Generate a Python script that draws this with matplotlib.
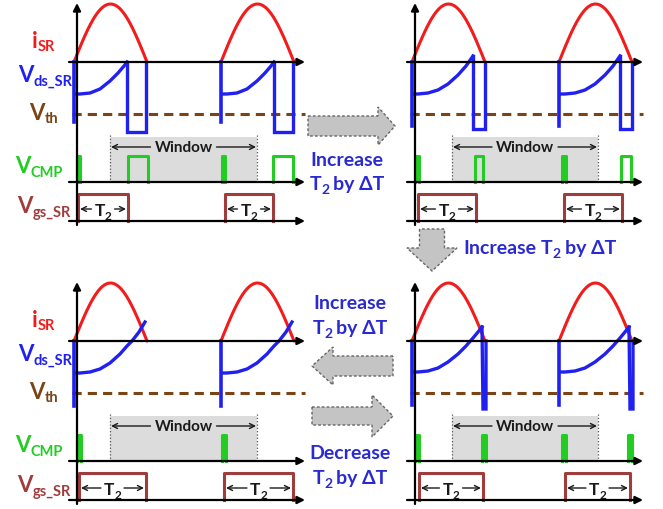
import matplotlib.pyplot as plt
from matplotlib.patches import Polygon, Rectangle

plt.rcParams['font.family'] = ['Lato', 'DejaVu Sans']

RED = '#f21c1c'
BLUE = '#2020f0'
GREEN = '#22cc22'
BROWN = '#7a4416'
MAROON = '#a03c3c'
TXTBLUE = '#2a2ad2'

# where each of the 4 timing diagrams sits (x of its vertical axis, row offset)
panel_x = [77, 415, 77, 415]
panel_y = [0, 0, 279, 279]

# common levels inside one diagram (px from top of the row)
axis_isr, axis_cmp, axis_gs = 63, 183, 222
vth_level = 115
cmp_high, gs_high = 157, 195
period = 147
isr_start = [-3, 144]
isr_len = 73
isr_peak = 58

# Vds_SR first period, t measured from the vertical axis
vds_spike = [123, 127, 128, 127]
vds_t = [
    [-2, 3, 13, 23, 33, 41, 47, 50],
    [-2, 3, 13, 23, 33, 43, 51, 58],
    [-2, 3, 13, 23, 33, 43, 50, 55, 62, 68],
    [-2, 3, 13, 23, 33, 43, 51, 58, 63, 67],
]
vds_y = [
    [95, 95, 94, 90, 82, 74, 67, 63],
    [95, 95, 94, 91, 85, 76, 67, 57],
    [95, 95, 94, 91, 85, 76, 68, 63, 54, 44],
    [94, 94, 93, 90, 84, 76, 68, 60, 54, 49],
]
tail_t = [[50, 50, 69, 69], [58, 58, 70, 70], [], [67, 68, 71, 71]]
tail_y = [[63, 133, 133, 63], [57, 130, 130, 63], [], [49, 131, 131, 63]]

# comparator pulses and gate pulses (start, end)
cmp_pulses = [
    [(0, 3), (51, 71), (145, 148), (196, 216)],
    [(0, 4), (60, 68), (147, 151), (206, 216)],
    [(0, 4), (145, 149)],
    [(0, 4), (67, 71), (147, 151), (213, 217)],
]
gate_pulses = [
    [(1, 51), (148, 196)],
    [(3, 61), (149, 207)],
    [(2, 69), (147, 216)],
    [(4, 68), (150, 215)],
]
windows = [(33, 180), (37, 183), (33, 180), (37, 183)]

fig = plt.figure(figsize=(6.63, 5.10), dpi=100)
ax = fig.add_axes([0, 0, 1, 1])
ax.set_xlim(0, 663)
ax.set_ylim(510, 0)
ax.axis('off')
R = fig.canvas.get_renderer()


def rich(x, y, parts, color, size, ha='left', sub_drop=4, sub_size=None):
    """parts: (text, is_sub, gap_after)"""
    sub_size = sub_size or size * 0.68
    ts, ws = [], []
    for s, is_sub, gap in parts:
        t = ax.text(0, y + (sub_drop if is_sub else 0), s, color=color,
                    fontsize=sub_size if is_sub else size, fontweight='bold',
                    va='baseline', ha='left', zorder=6)
        ts.append(t)
        ws.append(t.get_window_extent(R).width + gap)
    total = sum(ws)
    x0 = {'left': x, 'center': x - total / 2, 'right': x - total}[ha]
    for t, w in zip(ts, ws):
        t.set_x(x0)
        x0 += w
    return total


def harrow(y, x1, x2, lw=1.6):
    ax.annotate('', xy=(x2, y), xytext=(x1, y),
                arrowprops=dict(arrowstyle='-|>', color='black', lw=lw,
                                mutation_scale=11, shrinkA=0, shrinkB=0), zorder=5)


for i in range(4):
    X, Y = panel_x[i], panel_y[i]
    # window
    w0, w1 = windows[i]
    ax.add_patch(Rectangle((X + w0, Y + 138), w1 - w0, axis_cmp - 138,
                           facecolor='#dcdcdc', edgecolor='none', zorder=1))
    for w in (w0, w1):
        ax.plot([X + w, X + w], [Y + 136, Y + axis_cmp], ls=':', color='#555555', lw=0.9, zorder=2)
    ax.text(X + (w0 + w1) / 2, Y + 148, 'Window', ha='center', va='center',
            fontsize=11, fontweight='bold', color='#1a1a1a', zorder=6)
    for a, b in ((X + (w0 + w1) / 2 - 33, X + w0 + 1), (X + (w0 + w1) / 2 + 33, X + w1 - 1)):
        ax.annotate('', xy=(b, Y + 148), xytext=(a, Y + 148),
                    arrowprops=dict(arrowstyle='->', color='#1a1a1a', lw=1.0,
                                    mutation_scale=9, shrinkA=0, shrinkB=0), zorder=5)

    # axes
    for yy in (axis_isr, axis_cmp, axis_gs):
        harrow(Y + yy, X - 8, X + 228)
    ax.annotate('', xy=(X, Y + 4), xytext=(X, Y + 226),
                arrowprops=dict(arrowstyle='-|>', color='black', lw=1.6,
                                mutation_scale=11, shrinkA=0, shrinkB=0), zorder=5)
    ax.plot([X - 5, X + 228], [Y + vth_level] * 2, ls=(0, (3, 2)), color=BROWN, lw=2.2, zorder=3)

    for k, s in enumerate(isr_start):
        # i_SR half sine, drawn through sampled points of the pulse
        n = 40
        tt = [s + isr_len * j / n for j in range(n + 1)]
        import math
        yy = [Y + axis_isr - isr_peak * math.sin(math.pi * j / n) for j in range(n + 1)]
        ax.plot([X + t for t in tt], yy, color=RED, lw=2.2, zorder=4, solid_capstyle='round')

        off = k * period
        ax.plot([X + s, X + s], [Y + axis_isr, Y + vds_spike[i]], color=BLUE, lw=2.6, zorder=4)
        ax.plot([X + t + off for t in vds_t[i]], [Y + v for v in vds_y[i]], color=BLUE, lw=2.4,
                zorder=4, solid_joinstyle='round')
        if tail_t[i]:
            ax.plot([X + t + off for t in tail_t[i]], [Y + v for v in tail_y[i]], color=BLUE, lw=2.4,
                    zorder=4, solid_joinstyle='miter')

    for a, b in cmp_pulses[i]:
        ax.plot([X + a, X + a, X + b, X + b], [Y + axis_cmp, Y + cmp_high, Y + cmp_high, Y + axis_cmp],
                color=GREEN, lw=2.2, zorder=4)
        if b - a <= 4:
            ax.add_patch(Rectangle((X + a, Y + cmp_high), b - a, axis_cmp - cmp_high,
                                   facecolor=GREEN, edgecolor='none', zorder=4))

    for a, b in gate_pulses[i]:
        ax.plot([X + a, X + a, X + b, X + b], [Y + axis_gs, Y + gs_high, Y + gs_high, Y + axis_gs],
                color=MAROON, lw=2.2, zorder=4)
        c = X + (a + b) / 2
        tw = rich(c, Y + 216, [('T', False, 0), ('2', True, 0)], '#1a1a1a', 12.5, ha='center',
                  sub_drop=4)
        for p, q in ((c - tw / 2 - 3, X + a + 2), (c + tw / 2 + 3, X + b - 2)):
            ax.annotate('', xy=(q, Y + 210), xytext=(p, Y + 210),
                        arrowprops=dict(arrowstyle='->', color='#1a1a1a', lw=1.0,
                                        mutation_scale=9, shrinkA=0, shrinkB=0), zorder=5)

# signal names on the left diagrams
for Y in (0, 279):
    rich(55, Y + 48, [('i', False, 0), ('SR', True, 0)], RED, 16, ha='right', sub_drop=3, sub_size=10.5)
    rich(72, Y + 82, [('V', False, 0), ('ds_SR', True, 0)], BLUE, 16, ha='right', sub_drop=4, sub_size=10.5)
    rich(58, Y + 120, [('V', False, 0), ('th', True, 0)], BROWN, 16, ha='right', sub_drop=3, sub_size=10.5)
    rich(63, Y + 173, [('V', False, 0), ('CMP', True, 0)], GREEN, 16, ha='right', sub_drop=4, sub_size=10.5)
    rich(71, Y + 213, [('V', False, 0), ('gs_SR', True, 0)], MAROON, 16, ha='right', sub_drop=4, sub_size=10.5)


def block_arrow(tip, direction, length, body, head, head_len):
    tx, ty = tip
    if direction in ('right', 'left'):
        sgn = 1 if direction == 'right' else -1
        base = tx - sgn * length
        neck = tx - sgn * head_len
        pts = [(base, ty - body), (neck, ty - body), (neck, ty - head), (tx, ty),
               (neck, ty + head), (neck, ty + body), (base, ty + body)]
    else:
        base = ty - length
        neck = ty - head_len
        pts = [(tx - body, base), (tx - body, neck), (tx - head, neck), (tx, ty),
               (tx + head, neck), (tx + body, neck), (tx + body, base)]
    ax.add_patch(Polygon(pts, closed=True, facecolor='#c4c4c4', edgecolor='#666666',
                         ls=(0, (2, 1.5)), lw=1.0, zorder=3))


block_arrow((395, 127), 'right', 87, 10, 19, 17)
block_arrow((432, 272), 'down', 42, 12.5, 25, 23)
block_arrow((312, 367), 'left', 81, 10, 19, 21)
block_arrow((393, 417), 'right', 81, 9, 21, 21)

# captions between the diagrams
t2dt = [('T', False, 0), ('2', True, 4), ('by ΔT', False, 0)]
rich(347, 166, [('Increase', False, 0)], TXTBLUE, 14, ha='center')
rich(347, 190, t2dt, TXTBLUE, 14, ha='center', sub_drop=4, sub_size=10)
rich(463, 254, [('Increase', False, 5)] + t2dt, TXTBLUE, 14, ha='left', sub_drop=4, sub_size=10)
rich(350, 309, [('Increase', False, 0)], TXTBLUE, 14, ha='center')
rich(350, 334, t2dt, TXTBLUE, 14, ha='center', sub_drop=4, sub_size=10)
rich(350, 459, [('Decrease', False, 0)], TXTBLUE, 14, ha='center')
rich(350, 484, t2dt, TXTBLUE, 14, ha='center', sub_drop=4, sub_size=10)

fig.savefig('out.png', dpi=100)
